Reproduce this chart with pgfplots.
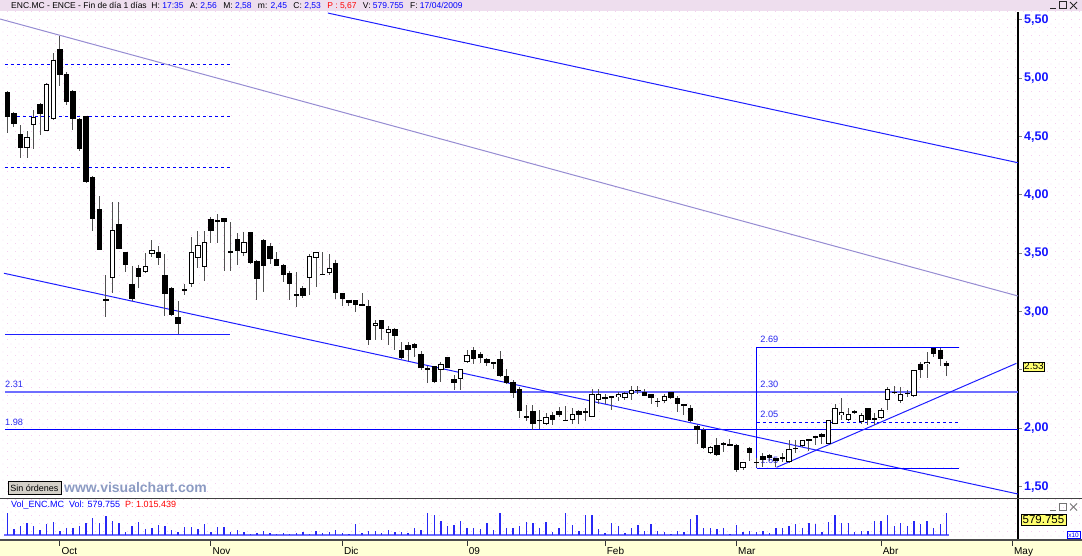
\documentclass[border=0pt]{standalone}
\usepackage{fontspec}
\setmainfont{Liberation Sans}
\usepackage{pgfplots}
\usepackage{pgfplotstable}
\pgfplotsset{compat=1.18}
\usetikzlibrary{patterns}
\definecolor{pureblue}{RGB}{0,0,255}
\definecolor{trendblue}{RGB}{30,30,255}
\definecolor{lightline}{RGB}{110,110,255}
\definecolor{midline}{RGB}{150,140,210}
\definecolor{wick}{RGB}{80,80,80}
\definecolor{lblblue}{RGB}{40,40,240}
\definecolor{axblue}{RGB}{20,20,255}
\definecolor{hdrpink}{RGB}{238,222,238}
\definecolor{bandyellow}{RGB}{255,255,214}
\definecolor{volblue}{RGB}{40,40,245}
\definecolor{btngray}{RGB}{212,208,200}
\definecolor{wwwcol}{RGB}{140,155,195}
\definecolor{hdrblue}{RGB}{0,0,255}
\definecolor{hdrred}{RGB}{255,0,0}
\definecolor{markyellow}{RGB}{255,255,110}
\definecolor{dotpink}{RGB}{246,205,240}

\pgfdeclarepatternformonly{vcdots}{\pgfpointorigin}{\pgfpoint{8pt}{8pt}}{\pgfpoint{8pt}{8pt}}{%
  \pgfpathrectangle{\pgfpointorigin}{\pgfpoint{1pt}{1pt}}%
  \pgfpathrectangle{\pgfpoint{4pt}{4pt}}{\pgfpoint{1pt}{1pt}}%
  \pgfusepath{fill}}

\pgfplotstableread{
i O H L C
0 4.88 4.89 4.53 4.67
1 4.70 4.71 4.58 4.61
2 4.52 4.60 4.32 4.40
3 4.40 4.55 4.32 4.50
4 4.60 4.73 4.39 4.67
5 4.78 4.79 4.51 4.69
6 4.55 4.96 4.55 4.95
7 4.65 5.22 4.64 5.16
8 5.25 5.36 4.93 5.03
9 5.04 5.05 4.77 4.80
10 4.89 4.90 4.56 4.65
11 4.65 4.66 4.38 4.39
12 4.68 4.68 4.10 4.11
13 4.15 4.16 3.69 3.79
14 3.88 3.99 3.53 3.53
15 3.10 3.31 2.95 3.10
16 3.29 3.94 3.16 3.70
17 3.75 3.94 3.54 3.54
18 3.51 3.51 3.34 3.40
19 3.24 3.39 3.09 3.11
20 3.37 3.40 3.20 3.30
21 3.34 3.50 3.33 3.39
22 3.49 3.61 3.47 3.53
23 3.51 3.56 3.40 3.46
24 3.31 3.49 2.96 3.15
25 3.20 3.21 2.96 2.97
26 2.95 3.09 2.81 2.89
27 3.18 3.24 3.14 3.19
28 3.24 3.64 3.21 3.51
29 3.46 3.69 3.37 3.57
30 3.38 3.69 3.26 3.60
31 3.79 3.81 3.59 3.69
32 3.78 3.84 3.59 3.78
33 3.80 3.80 3.35 3.77
34 3.51 3.77 3.35 3.52
35 3.62 3.67 3.40 3.52
36 3.50 3.68 3.48 3.60
37 3.68 3.68 3.41 3.42
38 3.43 3.44 3.10 3.28
39 3.61 3.62 3.17 3.39
40 3.56 3.59 3.41 3.45
41 3.45 3.51 3.39 3.39
42 3.40 3.41 3.25 3.31
43 3.33 3.35 3.10 3.24
44 3.14 3.34 3.04 3.15
45 3.20 3.22 3.12 3.13
46 3.29 3.49 3.14 3.48
47 3.46 3.51 3.21 3.51
48 3.32 3.51 3.32 3.32
49 3.33 3.49 3.31 3.37
50 3.42 3.44 3.11 3.16
51 3.16 3.16 3.05 3.11
52 3.10 3.10 3.05 3.07
53 3.10 3.10 3.00 3.06
54 3.06 3.16 3.06 3.06
55 3.05 3.10 2.71 2.76
56 2.88 2.93 2.76 2.90
57 2.93 2.93 2.76 2.85
58 2.82 2.88 2.71 2.85
59 2.85 2.86 2.67 2.79
60 2.67 2.74 2.59 2.60
61 2.71 2.74 2.58 2.67
62 2.72 2.73 2.61 2.69
63 2.64 2.66 2.50 2.52
64 2.51 2.53 2.39 2.51
65 2.53 2.53 2.39 2.40
66 2.50 2.57 2.40 2.55
67 2.61 2.61 2.52 2.52
68 2.42 2.46 2.33 2.39
69 2.42 2.51 2.33 2.51
70 2.57 2.67 2.56 2.63
71 2.67 2.70 2.55 2.59
72 2.64 2.65 2.56 2.60
73 2.59 2.60 2.53 2.56
74 2.56 2.56 2.51 2.56
75 2.59 2.66 2.44 2.45
76 2.45 2.51 2.38 2.39
77 2.40 2.41 2.26 2.30
78 2.34 2.35 2.09 2.15
79 2.10 2.20 2.06 2.10
80 2.15 2.20 1.99 2.04
81 2.07 2.16 1.99 2.07
82 2.04 2.13 2.03 2.10
83 2.11 2.14 2.03 2.07
84 2.15 2.18 2.10 2.11
85 2.07 2.19 2.07 2.07
86 2.07 2.17 2.04 2.12
87 2.15 2.16 2.04 2.11
88 2.14 2.17 2.06 2.14
89 2.10 2.34 2.10 2.29
90 2.24 2.34 2.21 2.29
91 2.26 2.29 2.21 2.26
92 2.27 2.27 2.16 2.27
93 2.27 2.31 2.23 2.29
94 2.26 2.31 2.24 2.30
95 2.29 2.36 2.24 2.33
96 2.32 2.36 2.29 2.33
97 2.31 2.34 2.28 2.28
98 2.29 2.29 2.21 2.26
99 2.23 2.26 2.18 2.23
100 2.23 2.29 2.22 2.28
101 2.31 2.31 2.25 2.26
102 2.26 2.28 2.14 2.21
103 2.20 2.20 2.11 2.20
104 2.17 2.20 2.05 2.06
105 2.02 2.03 1.87 1.99
106 1.99 2.00 1.82 1.83
107 1.79 1.85 1.78 1.84
108 1.86 1.92 1.76 1.77
109 1.87 1.88 1.80 1.87
110 1.86 1.91 1.85 1.86
111 1.86 1.87 1.63 1.64
112 1.66 1.71 1.64 1.71
113 1.83 1.84 1.72 1.79
114 1.71 1.75 1.67 1.71
115 1.76 1.79 1.67 1.73
116 1.77 1.78 1.72 1.75
117 1.75 1.75 1.67 1.72
118 1.75 1.79 1.71 1.75
119 1.71 1.90 1.70 1.82
120 1.83 1.90 1.79 1.83
121 1.85 1.90 1.84 1.90
122 1.90 1.91 1.81 1.90
123 1.93 1.93 1.86 1.93
124 1.95 1.96 1.87 1.93
125 1.87 2.07 1.87 2.07
126 2.04 2.21 2.04 2.17
127 2.11 2.26 2.07 2.14
128 2.07 2.17 2.06 2.12
129 2.15 2.16 2.12 2.13
130 2.05 2.13 2.04 2.11
131 2.17 2.17 2.03 2.07
132 2.09 2.13 2.03 2.07
133 2.09 2.17 2.08 2.16
134 2.24 2.35 2.16 2.34
135 2.31 2.36 2.29 2.31
136 2.23 2.35 2.22 2.29
137 2.30 2.33 2.27 2.30
138 2.28 2.50 2.27 2.50
139 2.55 2.57 2.43 2.50
140 2.55 2.65 2.43 2.57
141 2.69 2.69 2.61 2.64
142 2.67 2.69 2.53 2.59
143 2.56 2.58 2.45 2.53
}\candles

\pgfplotstableread{
i V
0 578
1 151
2 249
3 312
4 249
5 134
6 294
7 338
8 107
9 178
10 178
11 249
12 329
13 445
14 312
15 516
16 374
17 312
18 89
19 249
20 356
21 151
22 196
23 267
24 249
25 134
26 89
27 205
28 205
29 151
30 285
31 89
32 223
33 205
34 89
35 134
36 71
37 27
38 45
39 116
40 45
41 27
42 45
43 27
44 45
45 89
46 27
47 116
48 62
49 89
50 134
51 45
52 27
53 294
54 45
55 116
56 116
57 45
58 134
59 89
60 93
61 58
62 197
63 139
64 600
65 522
66 383
67 232
68 255
69 383
70 197
71 174
72 151
73 313
74 139
75 580
76 174
77 197
78 232
79 348
80 313
81 174
82 348
83 81
84 197
85 580
86 255
87 116
88 522
89 545
90 151
91 58
92 313
93 232
94 58
95 174
96 255
97 116
98 290
99 116
100 93
101 35
102 116
103 93
104 429
105 522
106 174
107 174
108 151
109 174
110 35
111 255
112 93
113 116
114 81
115 116
116 58
117 174
118 174
119 232
120 290
121 197
122 313
123 290
124 93
125 348
126 522
127 313
128 313
129 93
130 116
131 116
132 371
133 371
134 522
135 232
136 313
137 232
138 383
139 290
140 383
141 197
142 290
143 580
}\volumes

\newcommand{\gap}{\hspace{4pt}}
\begin{document}
\begin{tikzpicture}[x=1pt,y=1pt]
\path[use as bounding box] (0,0) rectangle (1082,556);
\fill[white] (0,0) rectangle (1082,556);
\fill[pattern=vcdots, pattern color=dotpink] (0,17) rectangle (1082,544);
\fill[hdrpink] (0,545) rectangle (1082,556);
\fill[bandyellow] (0,0) rectangle (1082,16);

\begin{axis}[
  at={(0pt,58pt)}, anchor=south west,
  scale only axis, width=1018pt, height=486pt,
  xmin=-1.111, xmax=153.84, ymin=1.403, ymax=5.568,
  axis x line=none, axis y line*=right, xtick=\empty,
  y axis line style={black, line width=1.6pt},
  ytick={1.5,2,3,3.5,4,4.5,5,5.5},
  extra y ticks={2.5}, extra y tick labels={},
  tick align=outside, major tick length=4pt,
  ytick style={draw=gray, line width=1pt},
  /pgf/number format/fixed, /pgf/number format/fixed zerofill,
  /pgf/number format/precision=2, /pgf/number format/use comma,
  /pgf/number format/assume math mode=true,
  yticklabel style={font=\fontsize{12.5}{14}\selectfont\bfseries, text=axblue, inner sep=2pt},
  clip=false,
]
% horizontal levels and trend lines
\addplot[pureblue, line width=1pt, dash pattern=on 3pt off 3pt] coordinates {(-0.35,5.122) (33.9,5.122)};
\addplot[pureblue, line width=1pt, dash pattern=on 3pt off 3pt] coordinates {(-0.35,4.675) (33.9,4.675)};
\addplot[pureblue, line width=1pt, dash pattern=on 3pt off 3pt] coordinates {(-0.35,4.237) (33.9,4.237)};
\addplot[trendblue, line width=1.4pt] coordinates {(-0.35,2.806) (33.9,2.806)};
\addplot[lightline, line width=2pt] coordinates {(-0.35,2.311) (153.84,2.311)};
\addplot[pureblue, line width=1pt] coordinates {(-0.35,1.986) (153.84,1.986)};
\addplot[trendblue, line width=1pt] coordinates {(-0.5,3.329) (153.84,1.437)};
\addplot[midline, line width=1pt] coordinates {(-1.111,5.508) (153.84,3.134)};
\addplot[trendblue, line width=1pt] coordinates {(48.8,5.559) (153.84,4.276)};
\addplot[pureblue, line width=1pt] coordinates {(114.1,1.658) (114.1,2.697) (144.9,2.697)};
\addplot[pureblue, line width=1pt] coordinates {(114.1,1.658) (144.9,1.658)};
\addplot[pureblue, line width=1pt, dash pattern=on 3pt off 3pt] coordinates {(114.1,2.054) (144.9,2.054)};
\addplot[trendblue, line width=1pt] coordinates {(117.1,1.666) (153.6,2.557)};

\begin{scope}[every node/.style={anchor=south west, inner sep=0pt, text=lblblue, font=\fontsize{9.2}{10}\selectfont}]
\node at (axis cs:-0.35,2.311) [yshift=4pt] {2.31};
\node at (axis cs:-0.35,1.986) [yshift=4pt] {1.98};
\node at (axis cs:114.6,2.697) [yshift=4pt] {2.69};
\node at (axis cs:114.6,2.311) [yshift=4pt] {2.30};
\node at (axis cs:114.6,2.054) [yshift=4pt] {2.05};
\node at (axis cs:114.6,1.658) [yshift=4pt] {1.65};
\end{scope}

% candlesticks: wicks, bodies, hollow inner of rising bodies
\addplot[draw=none, mark=none, error bars/.cd, y dir=both, y explicit, error mark=none,
  error bar style={draw=wick, line width=1pt}]
  table[x=i, y expr={(\thisrow{H}+\thisrow{L})/2}, y error expr={(\thisrow{H}-\thisrow{L})/2}] {\candles};
\addplot[draw=none, mark=none, error bars/.cd, y dir=both, y explicit, error mark=none,
  error bar style={draw=black, line width=5.4pt}]
  table[x=i, y expr={(\thisrow{O}+\thisrow{C})/2}, y error expr={max(abs(\thisrow{O}-\thisrow{C})/2,0.0043)}] {\candles};
\addplot[draw=none, mark=none, error bars/.cd, y dir=both, y explicit, error mark=none,
  error bar style={draw=white, line width=3.4pt}]
  table[x=i, y expr={(\thisrow{O}+\thisrow{C})/2}, y error expr={max((\thisrow{C}-\thisrow{O})/2-0.00857,0)}] {\candles};
\end{axis}

\begin{axis}[
  at={(0pt,16pt)}, anchor=south west,
  scale only axis, width=1018pt, height=41pt,
  xmin=-1.111, xmax=153.84, ymin=-133.5, ymax=961,
  axis x line*=bottom, axis y line*=right,
  x axis line style={draw=none},
  y axis line style={black, line width=1.6pt},
  ytick=\empty,
  xtick={8,31,51,70,91,111,133,153},
  xticklabels={Oct,Nov,Dic,09,Feb,Mar,Abr,May},
  tick align=outside, major tick length=6pt,
  xtick style={draw=black!80, line width=1pt},
  xticklabel style={anchor=north west, inner sep=1.5pt, font=\fontsize{10}{11}\selectfont, text=black},
  clip=false,
]
\addplot[lightline, line width=2pt] coordinates {(-0.5,0) (143.3,0)};
\addplot[ycomb, volblue, line width=1.4pt, mark=none] table[x=i, y=V] {\volumes};
\end{axis}

% separators
\draw[black!70, line width=2pt] (0,16) -- (1082,16);
\draw[black!75, line width=1.5pt] (0,57.5) -- (1082,57.5);

% header
\node[anchor=west, inner sep=0pt, font=\fontsize{8.5}{9}\selectfont] at (11,550)
 {ENC.MC - ENCE - Fin de día 1 días\ \ H: \textcolor{hdrblue}{17:35}\gap{} A: \textcolor{hdrblue}{2,56}\gap{} M: \textcolor{hdrblue}{2,58}\gap{} m: \textcolor{hdrblue}{2,45}\gap{} C: \textcolor{hdrblue}{2,53}\gap{} \textcolor{hdrred}{P : 5,67}\gap{} V: \textcolor{hdrblue}{579.755}\gap{} F: \textcolor{hdrblue}{17/04/2009}};
\begin{scope}[line width=1pt, black!85]
\draw (1050,547) -- (1056,547);
\draw (1059.5,547) rectangle (1066.5,554);
\draw (1070,547) -- (1077,554); \draw (1070,554) -- (1077,547);
\end{scope}

% volume panel texts
\node[anchor=west, inner sep=0pt, font=\fontsize{9}{10}\selectfont, text=hdrblue] at (11,50.5)
 {Vol\_ENC.MC\ \ Vol: 579.755\ \ \textcolor{hdrred}{P: 1.015.439}};
\begin{scope}[line width=1pt, black!55]
\draw (1050,45.5) -- (1056,45.5);
\draw (1059.5,45.5) rectangle (1066.5,52.5);
\draw (1070,45.5) -- (1077,52.5); \draw (1070,52.5) -- (1077,45.5);
\end{scope}
\node[anchor=west, draw=black, fill=markyellow, inner sep=1.5pt, font=\fontsize{11.5}{12}\selectfont] at (1021,36.5) {579.755};
\node[anchor=south east, draw=pureblue, fill=white, inner sep=1pt, text=pureblue, font=\fontsize{6.5}{7}\selectfont] at (1080,17.5) {x10};

% last price marker
\node[anchor=west, draw=black, fill=markyellow, inner sep=1pt, font=\fontsize{10}{11}\selectfont] at (1023,189.5) {2.53};

% button and watermark
\draw[fill=btngray, draw=black, line width=1pt] (8,61) rectangle (61,74);
\node[font=\fontsize{9}{10}\selectfont] at (34.5,67.5) {Sin órdenes};
\node[anchor=west, inner sep=0pt, font=\fontsize{14}{15}\selectfont\bfseries, text=wwwcol] at (64,68.5) {www.visualchart.com};
\end{tikzpicture}
\end{document}
